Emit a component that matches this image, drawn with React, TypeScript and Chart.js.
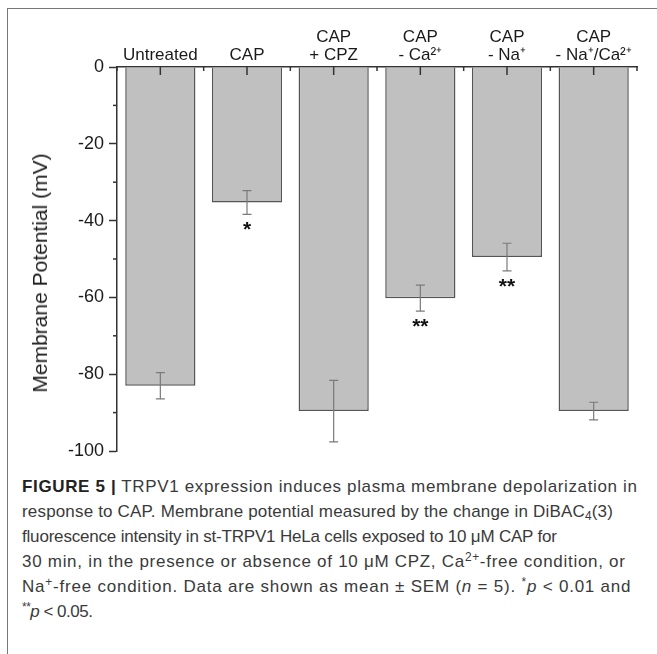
import React, { useEffect, useRef } from "react";
import { Chart, registerables } from "chart.js";

Chart.register(...registerables);

// ---- data ----
const categories: (string | string[])[] = [
  "Untreated",
  "CAP",
  ["CAP", "+ CPZ"],
  ["CAP", "- Ca²⁺"],
  ["CAP", "- Na⁺"],
  ["CAP", "- Na⁺/Ca²⁺"],
];
const meanValues = [-83.0, -35.3, -89.6, -60.2, -49.5, -89.6];
const semValues = [3.4, 3.1, 8.0, 3.4, 3.6, 2.3];
const significance = ["", "*", "", "**", "**", ""];
const yMin = -100;
const yMax = 0;
const yMajorStep = 20;
const yMinorTicks = [-10, -30, -50, -70, -90];

const FONT = "'Liberation Sans', Arial, Helvetica, sans-serif";
const CAPTION_FONT = "'Liberation Sans', Arial, Helvetica, sans-serif";

const overlayPlugin = {
  id: "overlay",
  afterDatasetsDraw(chart: any) {
    const ctx = chart.ctx;
    const x = chart.scales.x;
    const y = chart.scales.y;
    const area = chart.chartArea;
    ctx.save();
    // error bars
    ctx.strokeStyle = "#7a7a7a";
    ctx.lineWidth = 1.2;
    meanValues.forEach((m, i) => {
      const cx = x.getPixelForValue(i);
      const yt = y.getPixelForValue(m + semValues[i]);
      const yb = y.getPixelForValue(m - semValues[i]);
      ctx.beginPath();
      ctx.moveTo(cx, yt);
      ctx.lineTo(cx, yb);
      ctx.moveTo(cx - 4.5, yt);
      ctx.lineTo(cx + 4.5, yt);
      ctx.moveTo(cx - 4.5, yb);
      ctx.lineTo(cx + 4.5, yb);
      ctx.stroke();
    });
    // significance stars
    ctx.fillStyle = "#111";
    ctx.font = `bold 21px ${FONT}`;
    ctx.textAlign = "center";
    ctx.textBaseline = "alphabetic";
    significance.forEach((s, i) => {
      if (!s) return;
      const cx = x.getPixelForValue(i);
      const yb = y.getPixelForValue(meanValues[i] - semValues[i]);
      ctx.fillText(s, cx, yb + 10 + 12);
    });
    // x-axis ticks (inward, top axis)
    ctx.strokeStyle = "#333";
    ctx.lineWidth = 1.5;
    for (let i = 0; i < categories.length; i++) {
      const cx = x.getPixelForValue(i);
      ctx.beginPath();
      ctx.moveTo(cx, area.top);
      ctx.lineTo(cx, area.top + 8);
      ctx.stroke();
    }
    for (let i = 0; i <= categories.length; i++) {
      const bx = x.getPixelForValue(i - 0.5);
      ctx.beginPath();
      ctx.moveTo(bx, area.top);
      ctx.lineTo(bx, area.top + 4);
      ctx.stroke();
    }
    // y minor ticks
    yMinorTicks.forEach((v) => {
      const py = y.getPixelForValue(v);
      ctx.beginPath();
      ctx.moveTo(area.left - 4, py);
      ctx.lineTo(area.left, py);
      ctx.stroke();
    });
    ctx.restore();
  },
};

function App() {
  const ref = useRef<HTMLCanvasElement | null>(null);
  useEffect(() => {
    if (!ref.current) return;
    const chart = new Chart(ref.current, {
      type: "bar",
      data: {
        labels: categories as any,
        datasets: [
          {
            data: meanValues,
            backgroundColor: "#c0c0c0",
            borderColor: "#555",
            borderWidth: 1.5,
            categoryPercentage: 1,
            barPercentage: 0.81,
          },
        ],
      },
      options: {
        animation: false,
        responsive: false,
        devicePixelRatio: 1,
        layout: { padding: { left: 0, top: 0, right: 20, bottom: 19 } },
        plugins: { legend: { display: false }, tooltip: { enabled: false } },
        scales: {
          x: {
            type: "category",
            position: "top",
            grid: { display: false, drawTicks: false, tickLength: 0 },
            border: { display: true, color: "#333", width: 1.5 },
            ticks: {
              autoSkip: false,
              maxRotation: 0,
              minRotation: 0,
              color: "#1a1a1a",
              padding: 2,
              font: { family: FONT, size: 17, lineHeight: 1.1 },
            },
            afterFit: (s: any) => {
              s.height = 67;
            },
          },
          y: {
            min: yMin,
            max: yMax,
            grid: {
              display: true,
              drawOnChartArea: false,
              tickLength: 8,
              tickColor: "#333",
              tickWidth: 1.5,
            },
            border: { display: true, color: "#333", width: 1.5 },
            ticks: {
              stepSize: yMajorStep,
              color: "#1a1a1a",
              padding: 5,
              font: { family: FONT, size: 18 },
            },
            afterFit: (s: any) => {
              s.width = 117;
            },
          },
        },
      },
      plugins: [overlayPlugin],
    });
    return () => chart.destroy();
  }, []);

  const cap = (ls: number): React.CSSProperties => ({
    whiteSpace: "nowrap",
    height: 25,
    letterSpacing: ls,
  });
  const sup: React.CSSProperties = { fontSize: "0.7em", lineHeight: 0, verticalAlign: "0.5em" };
  const sub: React.CSSProperties = { fontSize: "0.7em", lineHeight: 0, verticalAlign: "-0.25em" };
  return (
    <div
      style={{
        position: "absolute",
        left: 0,
        top: 0,
        width: 657,
        height: 654,
        overflow: "hidden",
        background: "#fff",
      }}
    >
      <div
        style={{
          position: "absolute",
          left: 7,
          top: 8,
          width: 800,
          height: 800,
          borderLeft: "1px solid #777",
          borderTop: "1px solid #777",
        }}
      />
      <canvas
        ref={ref}
        width={657}
        height={470}
        style={{ position: "absolute", left: 0, top: 0, width: 657, height: 470 }}
      />
      <div
        style={{
          position: "absolute",
          left: 40,
          top: 273,
          transform: "translate(-50%, -50%) rotate(-90deg)",
          whiteSpace: "nowrap",
          fontFamily: FONT,
          fontSize: 21,
          color: "#1a1a1a",
        }}
      >
        Membrane Potential (mV)
      </div>
      <div
        style={{
          position: "absolute",
          left: 22,
          top: 474,
          fontFamily: CAPTION_FONT,
          fontSize: 17,
          lineHeight: "25px",
          color: "#3a3a3a",
        }}
      >
        <div style={cap(0.64)}>
          <b style={{ color: "#222" }}>FIGURE 5 |</b> TRPV1 expression induces plasma membrane depolarization in
        </div>
        <div style={cap(0.17)}>
          response to CAP. Membrane potential measured by the change in DiBAC<sub style={sub}>4</sub>(3)
        </div>
        <div style={cap(-0.19)}>fluorescence intensity in st-TRPV1 HeLa cells exposed to 10 μM CAP for</div>
        <div style={cap(0.71)}>
          30 min, in the presence or absence of 10 μM CPZ, Ca<sup style={sup}>2+</sup>-free condition, or
        </div>
        <div style={cap(0.78)}>
          Na<sup style={sup}>+</sup>-free condition. Data are shown as mean ± SEM (<i>n</i> = 5). <sup style={sup}>*</sup><i>p</i> &lt; 0.01 and
        </div>
        <div style={cap(-0.5)}>
          <sup style={sup}>**</sup><i>p</i> &lt; 0.05.
        </div>
      </div>
    </div>
  );
}

export default App;
